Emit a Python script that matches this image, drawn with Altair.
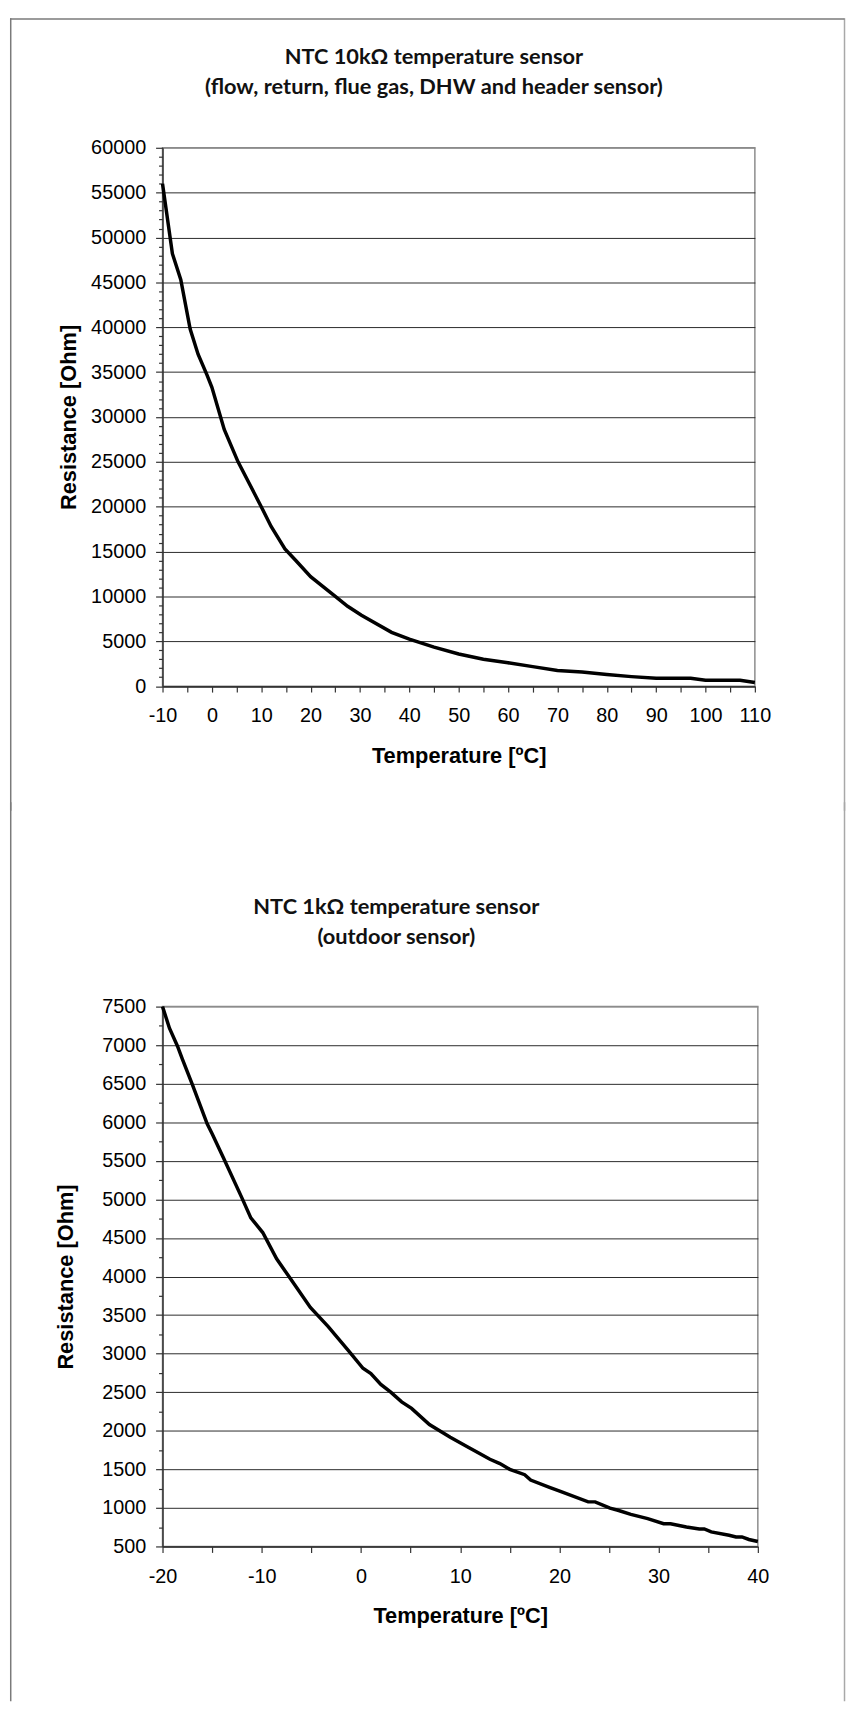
import altair as alt
import pandas as pd

# ---------------- data ----------------
T1 = [-10, -8, -6.3, -4.4, -2.8, -1, 0, 2.5, 5.3, 10, 12, 14.8, 17, 20, 25, 27.5,
      30.3, 36.4, 40, 45, 50, 55, 60, 65, 70, 75, 80, 85, 90, 97, 100, 107, 110]
R1 = [56000, 48200, 45300, 39800, 37000, 34700, 33300, 28600, 25000, 20000, 17800,
      15300, 14000, 12200, 10000, 8900, 7900, 6000, 5250, 4350, 3580, 3000, 2600,
      2180, 1750, 1580, 1290, 1060, 870, 870, 650, 650, 400]

T2 = [-20, -19.3, -18.5, -18, -17, -15.5, -15, -13.9, -12, -11.1, -9.9, -8.5, -7.1,
      -5.1, -3.3, -1.2, 0.2, 1, 2, 3, 4.1, 5.1, 6.9, 9, 10.9, 11.5, 13, 14, 15, 16.5,
      17.1, 19, 20.1, 22.9, 23.6, 25.1, 25.9, 27.2, 28.9, 30.5, 31.2, 32.8, 34.1,
      34.6, 35.3, 37.1, 37.8, 38.4, 39.1, 40]
R2 = [7500, 7220, 6990, 6820, 6490, 5980, 5850, 5550, 5020, 4760, 4570, 4230, 3970,
      3600, 3350, 3030, 2810, 2740, 2600, 2500, 2375, 2290, 2080, 1915, 1780, 1737,
      1630, 1575, 1500, 1430, 1360, 1267, 1213, 1078, 1078, 996, 969, 915, 861, 795,
      795, 753, 726, 726, 688, 645, 623, 623, 590, 564]

TOP_TITLE = ["NTC 10kΩ temperature sensor", "(flow, return, flue gas, DHW and header sensor)"]
BOTTOM_TITLE = ["NTC 1kΩ temperature sensor", "(outdoor sensor)"]
X_TITLE = "Temperature [ºC]"
Y_TITLE = "Resistance [Ohm]"

Y1_TICKS = list(range(0, 60001, 1000))
X1_TICKS = list(range(-10, 111, 5))
Y2_TICKS = list(range(500, 7501, 250))
X2_TICKS = list(range(-20, 41, 5))

LABEL_FONT = "Liberation Sans"
TITLE_FONT = "Lato"
ONE = pd.DataFrame({"k": [0]})
PLOT_LEFT = 154.0
FRAME_RIGHT = 842.5
FRAME_BOTTOM = 1698.0


def y_axis(values, major, top, title_pad):
    cond = f"datum.value % {major} === 0"
    return alt.Axis(
        values=values, title=Y_TITLE,
        labelExpr=f"{cond} ? '' + datum.value : ''",
        labelOverlap=False, labelFlush=False,
        tickSize={"condition": {"test": cond, "value": 7}, "value": 4},
        grid=True,
        gridOpacity={"condition": {"test": cond, "value": 1}, "value": 0},
        gridColor={"condition": {"test": f"datum.value === {top}", "value": "#8c8c8c"},
                   "value": "#2a2a2a"},
        gridWidth=1,
        labelPadding=10, titlePadding=title_pad,
    )


def x_axis(values):
    return alt.Axis(
        values=values, title=X_TITLE,
        labelExpr="datum.value % 10 === 0 ? '' + datum.value : ''",
        labelOverlap=False, labelFlush=False, grid=False,
        tickSize=6, labelPadding=14, titlePadding=20,
    )


def frame_rule(x, y, x2=None, y2=None, color="#7a7a7a"):
    enc = dict(x=alt.value(x), y=alt.value(y))
    if x2 is not None:
        enc["x2"] = alt.value(x2)
    if y2 is not None:
        enc["y2"] = alt.value(y2)
    return alt.Chart(ONE).mark_rule(color=color, strokeWidth=1.5).encode(**enc)


def title_line(text, x, y):
    return alt.Chart(ONE).mark_text(
        text=text, font=TITLE_FONT, fontSize=22, fontWeight="bold", color="#111111",
        align="center", baseline="middle",
    ).encode(x=alt.value(x), y=alt.value(y))


def panel(T, R, xdom, ydom, xticks, yticks, ymajor, w, h, oy, title, title_x,
          title_y, frame_top_rel, frame_bottom_abs, draw_top, title_pad):
    ox = PLOT_LEFT
    df = pd.DataFrame({"T": T, "R": R})
    line = alt.Chart(df).mark_line(color="black", strokeWidth=3.5).encode(
        x=alt.X("T:Q", scale=alt.Scale(domain=xdom, nice=False, zero=False),
                axis=x_axis(xticks)),
        y=alt.Y("R:Q", scale=alt.Scale(domain=ydom, nice=False, zero=False),
                axis=y_axis(yticks, ymajor, ydom[1], title_pad)),
        order=alt.Order("T:Q"),
    )
    left = -ox + 0.75
    right = FRAME_RIGHT - ox
    bottom_rel = frame_bottom_abs - oy
    layers = [
        frame_rule(left, frame_top_rel, y2=bottom_rel),
        frame_rule(right, frame_top_rel, y2=bottom_rel, color="#a8a8a8"),
    ]
    if draw_top:
        layers.append(frame_rule(-ox, frame_top_rel + 0.75, x2=right))
    for i, t in enumerate(title):
        layers.append(title_line(t, title_x - ox, title_y[i] - oy))
    layers.append(line)
    return alt.layer(*layers).properties(width=w, height=h)


DY = -3.3  # page offset of the embedded svg
top = panel(T1, R1, [-10, 110], [0, 60000], X1_TICKS, Y1_TICKS, 5000,
            598, 543.5, 134 + DY, TOP_TITLE, 428, [42.5 + DY, 72.5 + DY],
            -(134 + DY), 800, True, 10)
bottom = panel(T2, R2, [-20, 40], [500, 7500], X2_TICKS, Y2_TICKS, 500,
               601, 545, 1000 + DY, BOTTOM_TITLE, 390, [899.7 + DY, 930.3 + DY],
               -206.4, FRAME_BOTTOM, False, 24)

chart = alt.vconcat(top, bottom, spacing=-12).properties(
    padding={"left": 0, "top": 0, "right": 0, "bottom": 0}
).configure_view(
    stroke="#8c8c8c", strokeWidth=1.5
).configure_axis(
    labelFont=LABEL_FONT, labelFontSize=20, labelColor="black",
    titleFont=LABEL_FONT, titleFontSize=22, titleFontWeight="bold", titleColor="black",
    domainColor="#333333", domainWidth=1.5, tickColor="#333333", tickWidth=1.2,
)

chart.save("out.html", embed_options={"renderer": "svg", "actions": False})
